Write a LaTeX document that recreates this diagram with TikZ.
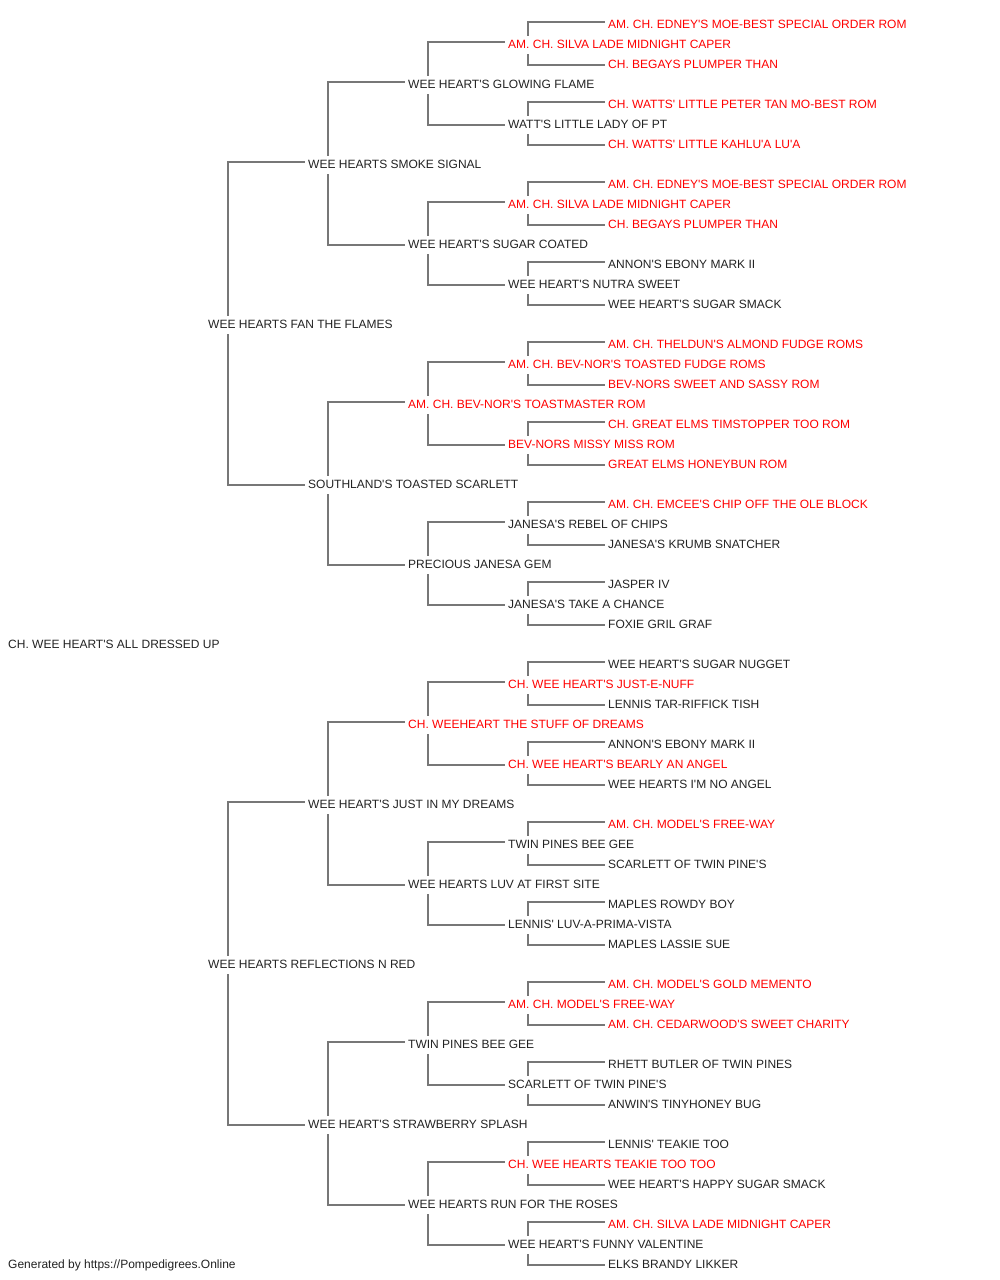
\documentclass[tikz,border=0pt]{standalone}
\usepackage{fontspec}
\setmainfont{Liberation Sans}[Ligatures=TeXOff]
\usepackage{tikz}
\definecolor{cRed}{HTML}{FF0000}
\definecolor{cBlack}{HTML}{222222}
\definecolor{cGrey}{HTML}{777777}
\tikzset{
	dog/.style={anchor=base west, inner xsep=0pt, inner ysep=3pt, text height=9pt, text depth=3pt,
		font=\fontsize{12}{14}\selectfont, text=cBlack},
	champ/.style={text=cRed},
	link/.style={cGrey, line width=1.3pt}
}
\begin{document}
\begin{tikzpicture}[x=1pt, y=-1pt]
		\useasboundingbox (0,0) rectangle (1000,1280);
		% root and generation 1
		\node[dog] (x) at (8,648) {CH. WEE HEART'S ALL DRESSED UP};
		\node[dog] (s) at (208,328) {WEE HEARTS FAN THE FLAMES};
		\node[dog] (d) at (208,968) {WEE HEARTS REFLECTIONS N RED};
		% generation 2
		\node[dog] (ss) at (308,168) {WEE HEARTS SMOKE SIGNAL};
		\node[dog] (sd) at (308,488) {SOUTHLAND'S TOASTED SCARLETT};
		\node[dog] (ds) at (308,808) {WEE HEART'S JUST IN MY DREAMS};
		\node[dog] (dd) at (308,1128) {WEE HEART'S STRAWBERRY SPLASH};
		% generation 3
		\node[dog] (sss) at (408,88) {WEE HEART'S GLOWING FLAME};
		\node[dog] (ssd) at (408,248) {WEE HEART'S SUGAR COATED};
		\node[dog, champ] (sds) at (408,408) {AM. CH. BEV-NOR'S TOASTMASTER ROM};
		\node[dog] (sdd) at (408,568) {PRECIOUS JANESA GEM};
		\node[dog, champ] (dss) at (408,728) {CH. WEEHEART THE STUFF OF DREAMS};
		\node[dog] (dsd) at (408,888) {WEE HEARTS LUV AT FIRST SITE};
		\node[dog] (dds) at (408,1048) {TWIN PINES BEE GEE};
		\node[dog] (ddd) at (408,1208) {WEE HEARTS RUN FOR THE ROSES};
		% generation 4
		\node[dog, champ] (ssss) at (508,48) {AM. CH. SILVA LADE MIDNIGHT CAPER};
		\node[dog] (sssd) at (508,128) {WATT'S LITTLE LADY OF PT};
		\node[dog, champ] (ssds) at (508,208) {AM. CH. SILVA LADE MIDNIGHT CAPER};
		\node[dog] (ssdd) at (508,288) {WEE HEART'S NUTRA SWEET};
		\node[dog, champ] (sdss) at (508,368) {AM. CH. BEV-NOR'S TOASTED FUDGE ROMS};
		\node[dog, champ] (sdsd) at (508,448) {BEV-NORS MISSY MISS ROM};
		\node[dog] (sdds) at (508,528) {JANESA'S REBEL OF CHIPS};
		\node[dog] (sddd) at (508,608) {JANESA'S TAKE A CHANCE};
		\node[dog, champ] (dsss) at (508,688) {CH. WEE HEART'S JUST-E-NUFF};
		\node[dog, champ] (dssd) at (508,768) {CH. WEE HEART'S BEARLY AN ANGEL};
		\node[dog] (dsds) at (508,848) {TWIN PINES BEE GEE};
		\node[dog] (dsdd) at (508,928) {LENNIS' LUV-A-PRIMA-VISTA};
		\node[dog, champ] (ddss) at (508,1008) {AM. CH. MODEL'S FREE-WAY};
		\node[dog] (ddsd) at (508,1088) {SCARLETT OF TWIN PINE'S};
		\node[dog, champ] (ddds) at (508,1168) {CH. WEE HEARTS TEAKIE TOO TOO};
		\node[dog] (dddd) at (508,1248) {WEE HEART'S FUNNY VALENTINE};
		% generation 5
		\node[dog, champ] (sssss) at (608,28) {AM. CH. EDNEY'S MOE-BEST SPECIAL ORDER ROM};
		\node[dog, champ] (ssssd) at (608,68) {CH. BEGAYS PLUMPER THAN};
		\node[dog, champ] (sssds) at (608,108) {CH. WATTS' LITTLE PETER TAN MO-BEST ROM};
		\node[dog, champ] (sssdd) at (608,148) {CH. WATTS' LITTLE KAHLU'A LU'A};
		\node[dog, champ] (ssdss) at (608,188) {AM. CH. EDNEY'S MOE-BEST SPECIAL ORDER ROM};
		\node[dog, champ] (ssdsd) at (608,228) {CH. BEGAYS PLUMPER THAN};
		\node[dog] (ssdds) at (608,268) {ANNON'S EBONY MARK II};
		\node[dog] (ssddd) at (608,308) {WEE HEART'S SUGAR SMACK};
		\node[dog, champ] (sdsss) at (608,348) {AM. CH. THELDUN'S ALMOND FUDGE ROMS};
		\node[dog, champ] (sdssd) at (608,388) {BEV-NORS SWEET AND SASSY ROM};
		\node[dog, champ] (sdsds) at (608,428) {CH. GREAT ELMS TIMSTOPPER TOO ROM};
		\node[dog, champ] (sdsdd) at (608,468) {GREAT ELMS HONEYBUN ROM};
		\node[dog, champ] (sddss) at (608,508) {AM. CH. EMCEE'S CHIP OFF THE OLE BLOCK};
		\node[dog] (sddsd) at (608,548) {JANESA'S KRUMB SNATCHER};
		\node[dog] (sddds) at (608,588) {JASPER IV};
		\node[dog] (sdddd) at (608,628) {FOXIE GRIL GRAF};
		\node[dog] (dssss) at (608,668) {WEE HEART'S SUGAR NUGGET};
		\node[dog] (dsssd) at (608,708) {LENNIS TAR-RIFFICK TISH};
		\node[dog] (dssds) at (608,748) {ANNON'S EBONY MARK II};
		\node[dog] (dssdd) at (608,788) {WEE HEARTS I'M NO ANGEL};
		\node[dog, champ] (dsdss) at (608,828) {AM. CH. MODEL'S FREE-WAY};
		\node[dog] (dsdsd) at (608,868) {SCARLETT OF TWIN PINE'S};
		\node[dog] (dsdds) at (608,908) {MAPLES ROWDY BOY};
		\node[dog] (dsddd) at (608,948) {MAPLES LASSIE SUE};
		\node[dog, champ] (ddsss) at (608,988) {AM. CH. MODEL'S GOLD MEMENTO};
		\node[dog, champ] (ddssd) at (608,1028) {AM. CH. CEDARWOOD'S SWEET CHARITY};
		\node[dog] (ddsds) at (608,1068) {RHETT BUTLER OF TWIN PINES};
		\node[dog] (ddsdd) at (608,1108) {ANWIN'S TINYHONEY BUG};
		\node[dog] (dddss) at (608,1148) {LENNIS' TEAKIE TOO};
		\node[dog] (dddsd) at (608,1188) {WEE HEART'S HAPPY SUGAR SMACK};
		\node[dog, champ] (dddds) at (608,1228) {AM. CH. SILVA LADE MIDNIGHT CAPER};
		\node[dog] (ddddd) at (608,1268) {ELKS BRANDY LIKKER};
		% sire up, dam down
		\foreach \dog in {s,d,ss,sd,ds,dd,sss,ssd,sds,sdd,dss,dsd,dds,ddd,
			ssss,sssd,ssds,ssdd,sdss,sdsd,sdds,sddd,dsss,dssd,dsds,dsdd,ddss,ddsd,ddds,dddd}{
			\draw[link] ([xshift=20pt]\dog.north west) |- ([xshift=-3pt,yshift=3pt]\dog s.west);
			\draw[link] ([xshift=20pt]\dog.south west) |- ([xshift=-3pt]\dog d.west);
		}
		\node[dog] (credit) at (8,1268) {Generated by https://Pompedigrees.Online};
\end{tikzpicture}
\end{document}
